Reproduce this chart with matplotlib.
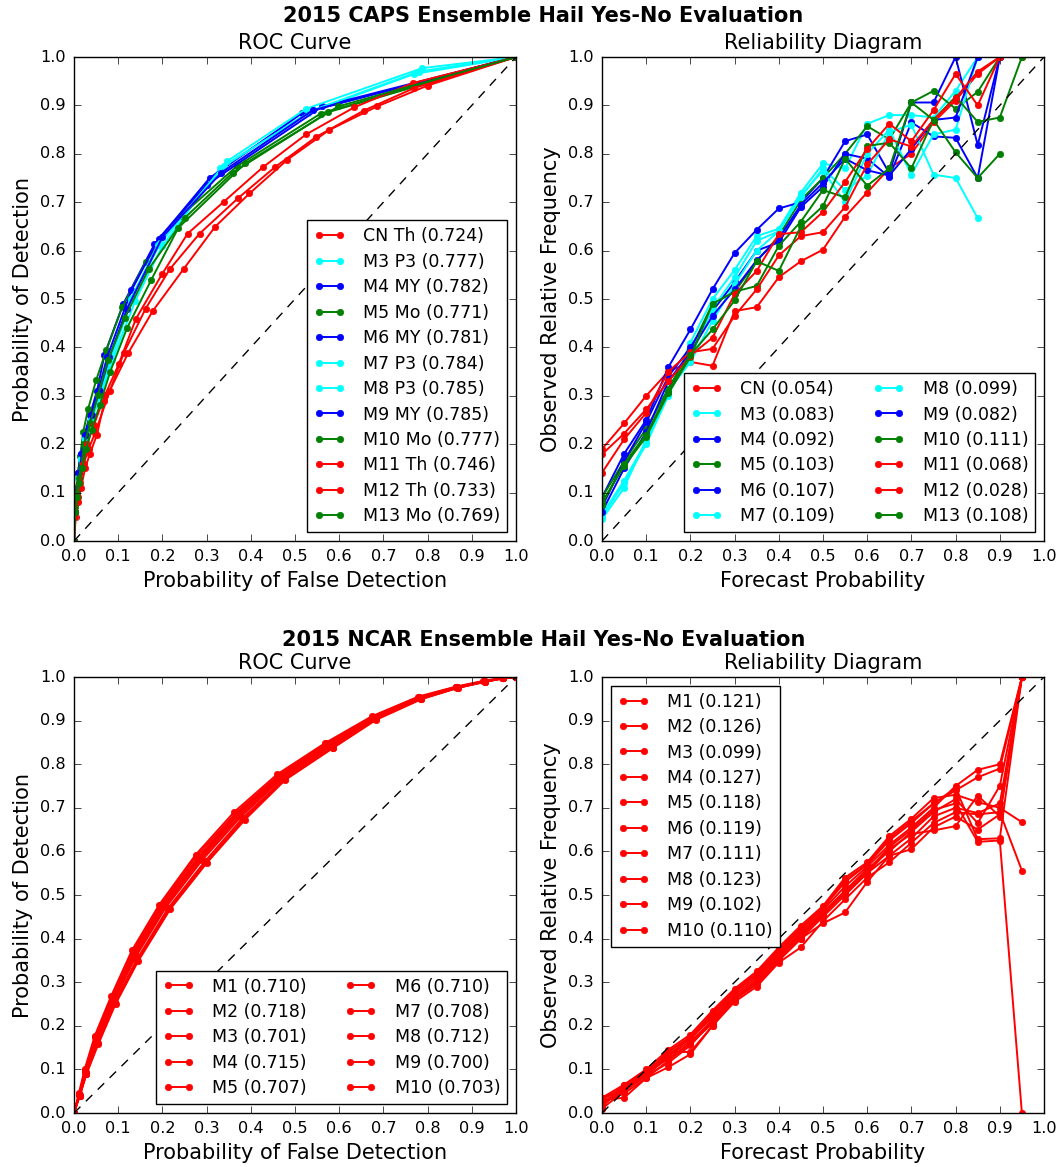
import numpy as np
import matplotlib
matplotlib.use("Agg")
import matplotlib.pyplot as plt

#################
#DATA SECTION
#################
#CAPS ensemble, ROC curve points (POFD, POD) for each member
capsNames = ["CN Th", "M3 P3", "M4 MY", "M5 Mo", "M6 MY", "M7 P3",
             "M8 P3", "M9 MY", "M10 Mo", "M11 Th", "M12 Th", "M13 Mo"]
capsColors = ["r", "c", "b", "g", "b", "c", "c", "b", "g", "r", "r", "g"]
capsAUC = [0.724, 0.777, 0.782, 0.771, 0.781, 0.784, 0.785, 0.785, 0.777, 0.746, 0.733, 0.769]

capsRocX = [
    [0, .004, .009, .016, .025, .036, .052, .069, .123, .178, .248, .319, .397, .483, .577, .686, .800, 1],
    [0, .002, .005, .010, .017, .027, .040, .060, .087, .138, .200, .330, .530, .770, 1],
    [0, .002, .005, .009, .015, .024, .036, .052, .069, .111, .182, .307, .516, 1],
    [0, .002, .005, .009, .014, .021, .032, .050, .073, .109, .162, .241, .368, .558, 1],
    [0, .002, .005, .010, .016, .026, .038, .055, .075, .130, .192, .300, .562, 1],
    [0, .002, .005, .010, .016, .026, .039, .058, .083, .132, .195, .347, .525, .788, 1],
    [0, .002, .005, .010, .016, .025, .038, .056, .080, .128, .190, .340, .540, .780, 1],
    [0, .003, .006, .011, .018, .028, .040, .058, .080, .120, .200, .333, .540, 1],
    [0, .003, .006, .011, .017, .023, .037, .054, .077, .115, .169, .251, .359, .575, 1],
    [0, .003, .007, .012, .020, .030, .045, .070, .101, .140, .199, .257, .339, .427, .525, .634, .766, 1],
    [0, .003, .008, .014, .022, .033, .048, .081, .113, .162, .217, .284, .372, .454, .548, .655, .770, 1],
    [0, .003, .007, .012, .019, .027, .040, .058, .082, .120, .175, .236, .387, .598, 1],
]
capsRocY = [
    [0, .05, .08, .11, .15, .18, .22, .289, .389, .475, .562, .649, .718, .788, .849, .898, .941, 1],
    [0, .05, .09, .13, .17, .21, .25, .30, .374, .495, .610, .770, .885, .965, 1],
    [0, .06, .10, .14, .18, .22, .26, .31, .385, .489, .613, .750, .884, 1],
    [0, .07, .11, .14, .176, .226, .273, .332, .394, .483, .576, .671, .774, .883, 1],
    [0, .06, .10, .14, .18, .22, .26, .31, .380, .518, .625, .736, .898, 1],
    [0, .05, .09, .13, .17, .21, .25, .30, .374, .502, .615, .785, .893, .977, 1],
    [0, .05, .09, .13, .17, .21, .25, .30, .375, .500, .612, .775, .890, .970, 1],
    [0, .06, .10, .14, .18, .22, .26, .31, .380, .480, .628, .761, .890, 1],
    [0, .06, .10, .13, .158, .200, .244, .301, .374, .461, .562, .668, .761, .886, 1],
    [0, .06, .09, .12, .16, .20, .24, .301, .365, .459, .551, .635, .701, .772, .840, .896, .946, 1],
    [0, .05, .09, .12, .16, .19, .224, .310, .389, .480, .562, .635, .709, .772, .835, .889, .936, 1],
    [0, .06, .09, .12, .15, .19, .23, .28, .350, .440, .540, .647, .780, .898, 1],
]

#CAPS ensemble, reliability diagram (forecast probability, observed frequency)
capsRelBsReliability = [0.054, 0.083, 0.092, 0.103, 0.107, 0.109, 0.099, 0.082, 0.111, 0.068, 0.028, 0.108]
capsRelX = [
    [0, .05, .1, .15, .2, .25, .3, .35, .4, .45, .5, .55, .6, .65, .7, .75, .8, .85, .9, .95],
    [0, .05, .1, .15, .2, .25, .3, .35, .4, .45, .5, .55, .6, .65, .7, .75, .8, .85, .9],
    [0, .05, .1, .15, .2, .25, .3, .35, .4, .45, .5, .55, .6, .65, .7, .75, .8, .85, .9],
    [0, .05, .1, .15, .2, .25, .3, .35, .4, .45, .5, .55, .6, .65, .7, .75, .8, .85, .9],
    [0, .05, .1, .15, .2, .25, .3, .35, .4, .45, .5, .55, .6, .65, .7, .75, .8, .85, .9],
    [0, .05, .1, .15, .2, .25, .3, .35, .4, .45, .5, .55, .6, .65, .7, .75, .8, .85],
    [0, .05, .1, .15, .2, .25, .3, .35, .4, .45, .5, .55, .6, .65, .7, .75, .8, .85, .9],
    [0, .05, .1, .15, .2, .25, .3, .35, .4, .45, .5, .55, .6, .65, .7, .75, .8, .85, .9],
    [0, .05, .1, .15, .2, .25, .3, .35, .4, .45, .5, .55, .6, .65, .7, .75, .8, .85, .9, .95],
    [0, .05, .1, .15, .2, .25, .3, .35, .4, .45, .5, .55, .6, .65, .7, .75, .8, .85, .9],
    [0, .05, .1, .15, .2, .25, .3, .35, .4, .45, .5, .55, .6, .65, .7, .75, .8, .85, .9],
    [0, .05, .1, .15, .2, .25, .3, .35, .4, .45, .5, .55, .6, .65, .7, .75, .8, .85, .9],
]
capsRelY = [
    [.190, .243, .300, .350, .370, .362, .475, .483, .545, .578, .602, .670, .720, .770, .800, .865, .910, .965, 1.0, 1.0],
    [.050, .120, .200, .300, .410, .500, .560, .630, .645, .720, .780, .770, .862, .880, .880, .875, .930, 1.0, 1.0],
    [.090, .180, .250, .359, .437, .520, .595, .643, .687, .700, .750, .826, .840, .760, .906, .906, 1.0, .818, 1.0],
    [.090, .165, .232, .315, .395, .490, .515, .578, .630, .705, .750, .800, .857, .830, .906, .930, .893, .928, 1.0],
    [.070, .165, .245, .340, .400, .475, .535, .600, .617, .690, .732, .800, .790, .752, .865, .836, .833, .750, 1.0],
    [.045, .110, .210, .310, .370, .455, .530, .600, .640, .710, .770, .725, .755, .845, .860, .757, .750, .667],
    [.055, .125, .205, .305, .380, .480, .545, .620, .640, .715, .765, .700, .800, .850, .757, .840, .850, 1.0, 1.0],
    [.060, .150, .225, .330, .390, .465, .520, .580, .625, .695, .740, .790, .766, .755, .810, .870, .875, 1.0, 1.0],
    [.080, .155, .215, .305, .380, .490, .515, .527, .610, .660, .725, .710, .816, .823, .770, .870, .918, .866, .875, 1.0],
    [.179, .222, .272, .330, .383, .420, .510, .558, .634, .638, .680, .742, .810, .862, .826, .890, .965, .900, 1.0],
    [.141, .210, .265, .350, .390, .397, .465, .520, .590, .630, .638, .690, .778, .830, .815, .870, .915, .970, 1.0],
    [.075, .160, .220, .310, .385, .437, .497, .578, .558, .650, .692, .790, .734, .770, .906, .870, .803, .750, .800],
]

#NCAR ensemble, ROC curve points
ncarNames = ["M1", "M2", "M3", "M4", "M5", "M6", "M7", "M8", "M9", "M10"]
ncarAUC = [0.710, 0.718, 0.701, 0.715, 0.707, 0.710, 0.708, 0.712, 0.700, 0.703]
ncarRocX = [
    [0, .012, .026, .050, .088, .136, .200, .283, .370, .467, .575, .678, .782, .866, .928, .970, 1],
    [0, .011, .024, .047, .084, .131, .193, .275, .362, .460, .569, .674, .779, .864, .926, .969, 1],
    [0, .013, .028, .054, .093, .143, .216, .299, .385, .477, .585, .683, .785, .868, .930, .971, 1],
    [0, .012, .025, .048, .085, .133, .196, .278, .366, .463, .572, .676, .780, .865, .927, .970, 1],
    [0, .012, .027, .052, .090, .139, .208, .290, .378, .472, .580, .680, .783, .867, .929, .970, 1],
    [0, .012, .026, .050, .089, .137, .203, .285, .372, .468, .576, .679, .782, .866, .928, .970, 1],
    [0, .013, .027, .051, .090, .138, .205, .287, .375, .470, .578, .680, .783, .866, .928, .970, 1],
    [0, .012, .025, .049, .087, .135, .198, .281, .368, .465, .574, .677, .781, .865, .927, .970, 1],
    [0, .013, .028, .055, .094, .145, .218, .300, .387, .478, .586, .684, .786, .868, .930, .971, 1],
    [0, .013, .028, .053, .092, .142, .213, .296, .382, .475, .583, .682, .784, .867, .929, .971, 1],
]
ncarRocY = [
    [0, .042, .095, .170, .262, .365, .475, .585, .685, .772, .845, .906, .952, .976, .990, .997, 1],
    [0, .045, .100, .177, .268, .373, .478, .592, .690, .777, .849, .910, .955, .978, .991, .998, 1],
    [0, .040, .090, .160, .252, .350, .470, .575, .675, .765, .838, .903, .950, .975, .989, .997, 1],
    [0, .044, .098, .175, .266, .371, .477, .590, .688, .775, .848, .909, .954, .977, .990, .998, 1],
    [0, .041, .092, .165, .257, .357, .472, .580, .680, .768, .841, .905, .951, .976, .990, .997, 1],
    [0, .043, .094, .168, .260, .362, .474, .584, .684, .771, .844, .906, .952, .976, .990, .997, 1],
    [0, .042, .093, .167, .258, .360, .473, .582, .682, .770, .843, .905, .951, .976, .990, .997, 1],
    [0, .043, .096, .172, .264, .368, .476, .587, .686, .773, .846, .907, .953, .977, .990, .997, 1],
    [0, .040, .089, .158, .250, .348, .468, .573, .673, .764, .837, .902, .949, .975, .989, .997, 1],
    [0, .040, .090, .162, .254, .352, .470, .577, .677, .766, .839, .903, .950, .975, .989, .997, 1],
]

#NCAR ensemble, reliability diagram
ncarRelReliability = [0.121, 0.126, 0.099, 0.127, 0.118, 0.119, 0.111, 0.123, 0.102, 0.110]
ncarRelX = [0, .05, .1, .15, .2, .25, .3, .35, .4, .45, .5, .55, .6, .65, .7, .75, .8, .85, .9, .95]
ncarRelY = [
    [.030, .060, .095, .140, .175, .225, .280, .320, .370, .420, .470, .530, .570, .625, .665, .710, .740, .770, .790, 1.0],
    [.020, .055, .090, .135, .170, .220, .275, .315, .365, .415, .465, .520, .565, .615, .655, .700, .750, .787, .800, 1.0],
    [.035, .065, .100, .145, .180, .235, .285, .325, .380, .430, .475, .540, .575, .635, .675, .722, .730, .713, .700, .667],
    [.010, .050, .085, .130, .165, .210, .265, .305, .360, .410, .460, .510, .560, .600, .645, .690, .720, .665, .750, 1.0],
    [.025, .045, .080, .120, .160, .205, .260, .300, .350, .400, .450, .500, .550, .590, .630, .680, .700, .688, .710, 1.0],
    [.015, .060, .090, .140, .140, .200, .255, .290, .345, .380, .440, .490, .540, .575, .620, .665, .690, .685, .690, .556],
    [.030, .035, .080, .105, .135, .200, .260, .295, .350, .400, .435, .460, .530, .590, .605, .655, .680, .650, .685, 1.0],
    [.020, .065, .095, .130, .175, .230, .280, .320, .375, .425, .470, .535, .570, .630, .670, .710, .745, .628, .630, 1.0],
    [.025, .050, .090, .125, .160, .215, .270, .310, .360, .410, .455, .510, .555, .610, .650, .695, .710, .622, .625, 0.0],
    [.035, .055, .085, .115, .155, .210, .265, .300, .355, .405, .455, .505, .550, .605, .640, .648, .658, .728, .680, 1.0],
]

#colour letters as rendered by old matplotlib
colorMap = {"r": "#ff0000", "c": "#00ffff", "b": "#0000ff", "g": "#008000"}

#################
#STYLE SECTION
#################
plt.style.use("classic")
plt.rcParams["figure.facecolor"] = "white"
plt.rcParams["savefig.facecolor"] = "white"
plt.rcParams["font.family"] = "DejaVu Sans"
plt.rcParams["xtick.labelsize"] = 11.6
plt.rcParams["ytick.labelsize"] = 11.6
plt.rcParams["xtick.major.size"] = 5
plt.rcParams["ytick.major.size"] = 5
plt.rcParams["xtick.major.pad"] = 6
plt.rcParams["ytick.major.pad"] = 6
plt.rcParams["legend.fontsize"] = 12.5
plt.rcParams["legend.numpoints"] = 2
plt.rcParams["legend.handlelength"] = 1.8
plt.rcParams["legend.handletextpad"] = 1.05
plt.rcParams["legend.labelspacing"] = 0.43
plt.rcParams["legend.borderaxespad"] = 0.5

lineW = 1.4
markS = 4.6
ticks = np.arange(0, 1.01, 0.1)


#set up common formatting for a panel
def formatPanel(ax, title, xlab, ylab):
	ax.plot([0, 1], [0, 1], "k--", lw=1.0, dashes=(6.5, 5.5))
	ax.set_xlim(0, 1)
	ax.set_ylim(0, 1)
	ax.set_xticks(ticks)
	ax.set_yticks(ticks)
	ax.set_xticklabels(["%.1f" % t for t in ticks])
	ax.set_yticklabels(["%.1f" % t for t in ticks])
	ax.set_title(title, fontsize=15, pad=6)
	ax.set_xlabel(xlab, fontsize=15, labelpad=5)
	ax.set_ylabel(ylab, fontsize=15, labelpad=5)


W = 1063.0
H = 1167.0
fig = plt.figure(figsize=(W / 100, H / 100), dpi=100)

#pixel boxes for the four panels [left, top, right, bottom]
boxes = [(74, 57, 516, 541), (602, 57, 1044, 541), (74, 677, 516, 1113), (602, 677, 1044, 1113)]
axes = []
for (l, t, r, b) in boxes:
	axes.append(fig.add_axes([l / W, 1 - b / H, (r - l) / W, (b - t) / H]))
axRoc1, axRel1, axRoc2, axRel2 = axes

#################
#CAPS ROC
#################
for i in range(len(capsNames)):
	axRoc1.plot(capsRocX[i], capsRocY[i], "-o", color=colorMap[capsColors[i]], lw=lineW,
		ms=markS, mec=colorMap[capsColors[i]], label="%s (%.3f)" % (capsNames[i], capsAUC[i]))
formatPanel(axRoc1, "ROC Curve", "Probability of False Detection", "Probability of Detection")
axRoc1.legend(loc="lower right")

#################
#CAPS RELIABILITY
#################
for i in range(len(capsNames)):
	shortName = capsNames[i].split()[0]
	axRel1.plot(capsRelX[i], capsRelY[i], "-o", color=colorMap[capsColors[i]], lw=lineW,
		ms=markS, mec=colorMap[capsColors[i]], label="%s (%.3f)" % (shortName, capsRelBsReliability[i]))
formatPanel(axRel1, "Reliability Diagram", "Forecast Probability", "Observed Relative Frequency")
axRel1.legend(loc="lower right", ncol=2, columnspacing=2.2)

#################
#NCAR ROC
#################
for i in range(len(ncarNames)):
	axRoc2.plot(ncarRocX[i], ncarRocY[i], "-o", color="#ff0000", lw=lineW,
		ms=markS, mec="#ff0000", label="%s (%.3f)" % (ncarNames[i], ncarAUC[i]))
formatPanel(axRoc2, "ROC Curve", "Probability of False Detection", "Probability of Detection")
axRoc2.legend(loc="lower right", ncol=2, columnspacing=2.2)

#################
#NCAR RELIABILITY
#################
for i in range(len(ncarNames)):
	axRel2.plot(ncarRelX, ncarRelY[i], "-o", color="#ff0000", lw=lineW,
		ms=markS, mec="#ff0000", label="%s (%.3f)" % (ncarNames[i], ncarRelReliability[i]))
formatPanel(axRel2, "Reliability Diagram", "Forecast Probability", "Observed Relative Frequency")
axRel2.legend(loc="upper left")

#row titles
fig.text(543 / W, 1 - 16 / H, "2015 CAPS Ensemble Hail Yes-No Evaluation", ha="center", va="center",
	fontsize=15, fontweight="bold")
fig.text(544 / W, 1 - 640 / H, "2015 NCAR Ensemble Hail Yes-No Evaluation", ha="center", va="center",
	fontsize=15, fontweight="bold")

fig.savefig("out.png", dpi=100)
